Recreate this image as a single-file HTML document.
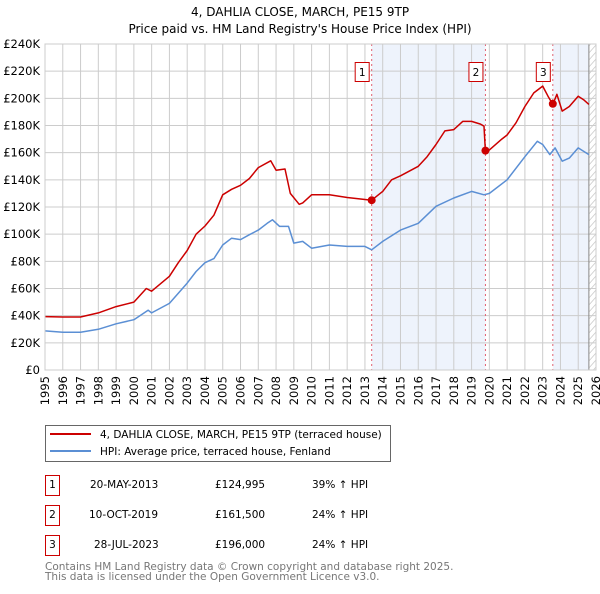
<!DOCTYPE html>
<html><head><meta charset="utf-8"><style>
body{margin:0;background:#fff;font-family:"DejaVu Sans","Liberation Sans",sans-serif;}
svg text{font-family:"DejaVu Sans","Liberation Sans",sans-serif;}
</style></head><body>
<svg id="c" width="600" height="590" xmlns="http://www.w3.org/2000/svg">
<text x="300" y="16" text-anchor="middle" font-size="12">4, DAHLIA CLOSE, MARCH, PE15 9TP</text>
<text x="300" y="33" text-anchor="middle" font-size="12">Price paid vs. HM Land Registry's House Price Index (HPI)</text>
<g id="plot"></g>
<g>
<rect x="45.5" y="425.5" width="345" height="36" fill="#fff" stroke="#666"/>
<line x1="50" y1="434" x2="91" y2="434" stroke="#cc0000" stroke-width="2"/>
<text x="100" y="438" font-size="10.5">4, DAHLIA CLOSE, MARCH, PE15 9TP (terraced house)</text>
<line x1="50" y1="451" x2="91" y2="451" stroke="#5b8fd4" stroke-width="2"/>
<text x="100" y="455" font-size="10.5">HPI: Average price, terraced house, Fenland</text>
</g>
<g font-size="10.5">
<rect x="45.5" y="475.5" width="14" height="20" fill="#fff" stroke="#cc0000"/><text x="52.5" y="488" text-anchor="middle">1</text>
<text x="90" y="488">20-MAY-2013</text><text x="215" y="488">£124,995</text><text x="312" y="488">39% ↑ HPI</text>
<rect x="45.5" y="505.5" width="14" height="20" fill="#fff" stroke="#cc0000"/><text x="52.5" y="518" text-anchor="middle">2</text>
<text x="89" y="518">10-OCT-2019</text><text x="215" y="518">£161,500</text><text x="312" y="518">24% ↑ HPI</text>
<rect x="45.5" y="535.5" width="14" height="20" fill="#fff" stroke="#cc0000"/><text x="52.5" y="548" text-anchor="middle">3</text>
<text x="94" y="548">28-JUL-2023</text><text x="215" y="548">£196,000</text><text x="312" y="548">24% ↑ HPI</text>
</g>
<text x="45" y="570" font-size="10.5" fill="#777">Contains HM Land Registry data © Crown copyright and database right 2025.</text>
<text x="45" y="580" font-size="10.5" fill="#777">This data is licensed under the Open Government Licence v3.0.</text>
</svg>
<script>
const redYears=[1995,1996,1997,1998,1999,2000,2000.7,2001,2002,2002.5,2003,2003.5,2004,2004.5,2005,2005.5,2006,2006.5,2007,2007.7,2008,2008.5,2008.8,2009.3,2009.5,2010,2011,2012,2013.38,2014,2014.5,2015,2016,2016.5,2017,2017.5,2018,2018.5,2019,2019.5,2019.7,2019.78,2020,2020.7,2021,2021.5,2022,2022.5,2023,2023.3,2023.57,2023.8,2024.1,2024.5,2025,2025.3,2025.6];
const redValues=[39.3,39,39,42,46.7,50,60,58,69,79,88,100,106,114,129,133,136,141,149,154,147,148,130,122,123,129,129,127,125,131.5,140,143,150,157,166,176,177,183,183,181,179.5,161,162,170,173,182,194,204,209,201.6,195.5,203,190.6,194,201.6,199,195.5];
const hpiYears=[1995,1996,1997,1998,1999,2000,2000.8,2001,2002,2003,2003.5,2004,2004.5,2005,2005.5,2006,2006.5,2007,2007.5,2007.8,2008.2,2008.7,2009,2009.5,2010,2011,2012,2013,2013.38,2014,2015,2016,2017,2018,2019,2019.7,2020,2021,2022,2022.7,2023,2023.4,2023.7,2024.1,2024.5,2025,2025.6];
const hpiValues=[28.8,27.8,27.8,30,34,37,44,42,49,64,72.5,79,82,92,97,96,99.6,103,108,110.6,105.7,105.7,93.4,94.7,89.7,92,91,91,88.5,94.7,103,108,120.5,126.6,131.5,129,130,140,157,168.4,166,158.6,163.5,153.7,156,163.5,158.6];
const saleYears=[2013.38,2019.78,2023.57];
const saleValues=[124.995,161.5,196];
const saleLabels=["1","2","3"];
const yTicks=[0,20,40,60,80,100,120,140,160,180,200,220,240];
const xTicks=[1995,1996,1997,1998,1999,2000,2001,2002,2003,2004,2005,2006,2007,2008,2009,2010,2011,2012,2013,2014,2015,2016,2017,2018,2019,2020,2021,2022,2023,2024,2025,2026];
const X0=45,X1=596,Y0=370,Y1=44;
const xs=y=>X0+(y-1995)/(2026-1995)*(X1-X0);
const ys=v=>Y0-v/240*(Y0-Y1);
const NS="http://www.w3.org/2000/svg";
const g=document.getElementById('plot');
function mk(t,a){const e=document.createElementNS(NS,t);for(const k in a)e.setAttribute(k,a[k]);g.appendChild(e);return e;}
const dataEnd=2025.6;
let e;
e=mk('rect',{x:xs(saleYears[0]),y:Y1,width:xs(saleYears[1])-xs(saleYears[0]),height:Y0-Y1,fill:'#eef3fc'});


e=mk('rect',{x:xs(saleYears[2]),y:Y1,width:xs(dataEnd)-xs(saleYears[2]),height:Y0-Y1,fill:'#eef3fc'});


// hatch
let hp=[];for(let yy=Y1-20;yy<Y0+20;yy+=7){hp.push(`M${xs(dataEnd)},${yy+8} L${X1},${yy}`);}
e=mk('path',{d:hp.join(' '),stroke:'#ccc','stroke-width':0.8,fill:'none','clip-path':'url(#hc)'});


const cp=document.createElementNS(NS,'clipPath');cp.setAttribute('id','hc');
const cr=document.createElementNS(NS,'rect');cr.setAttribute('x',xs(dataEnd));cr.setAttribute('y',Y1);cr.setAttribute('width',X1-xs(dataEnd));cr.setAttribute('height',Y0-Y1);cp.appendChild(cr);g.appendChild(cp);
yTicks.forEach(v=>{
 e=mk('line',{x1:X0,x2:X1,y1:ys(v),y2:ys(v),stroke:'#ccc','stroke-width':1});
 
 
 e=mk('text',{x:X0-5,y:ys(v)+4,'text-anchor':'end','font-size':11.5});
 e.textContent='£'+(v===0?'0':v+'K');
 
 
});
xTicks.forEach(t=>{
 e=mk('line',{x1:xs(t),x2:xs(t),y1:Y1,y2:Y0,stroke:'#ccc','stroke-width':1});
 
 
 e=mk('text',{x:0,y:0,'text-anchor':'end','font-size':11.5,transform:`translate(${xs(t)+4},${Y0+6}) rotate(-90)`});
 e.textContent=t;
 
 
});
e=mk('line',{x1:xs(dataEnd),x2:xs(dataEnd),y1:Y1,y2:Y0,stroke:'#888','stroke-width':1});


saleYears.forEach((s,i)=>{
 e=mk('line',{x1:xs(s),x2:xs(s),y1:Y1,y2:Y0,stroke:'#e06070','stroke-width':1,'stroke-dasharray':'2,3'});
 
 
});
const line=(xa,va)=>xa.map((x,i)=>(i?'L':'M')+xs(x).toFixed(1)+','+ys(va[i]).toFixed(1)).join(' ');
e=mk('path',{d:line(hpiYears,hpiValues),stroke:'#5b8fd4','stroke-width':1.5,fill:'none','stroke-linejoin':'round'});


e=mk('path',{d:line(redYears,redValues),stroke:'#cc0000','stroke-width':1.5,fill:'none','stroke-linejoin':'round'});


saleYears.forEach((s,i)=>{
 e=mk('circle',{cx:xs(s),cy:ys(saleValues[i]),r:4,fill:'#cc0000'});
 
 
 e=mk('rect',{x:xs(s)-16.5,y:62.5,width:14,height:19,fill:'#fff',stroke:'#cc0000'});
 
 
 e=mk('text',{x:xs(s)-9.5,y:76,'text-anchor':'middle','font-size':10.5});
 e.textContent=saleLabels[i];
 
 
});
e=mk('rect',{x:X0,y:Y1,width:X1-X0,height:Y0-Y1,fill:'none',stroke:'#ccc'});


</script>
</body></html>
